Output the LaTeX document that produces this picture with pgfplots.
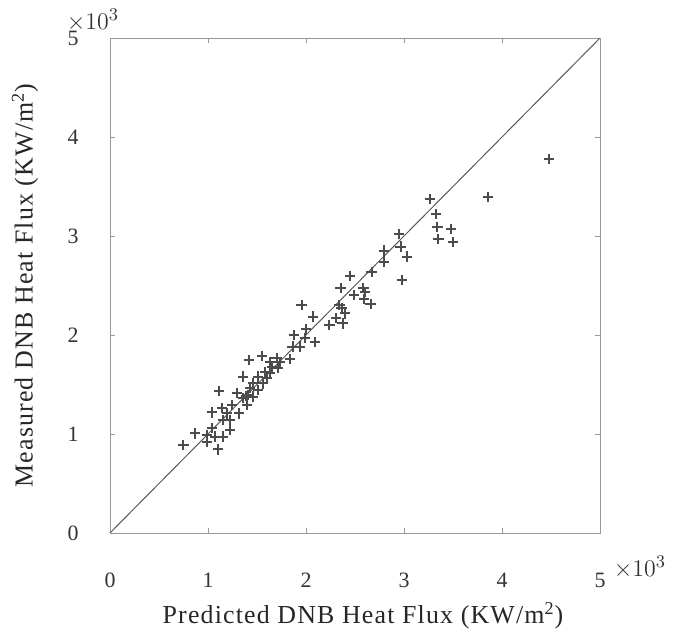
\documentclass[border=0pt]{standalone}
\usepackage{pgfplots}
\pgfplotsset{compat=1.18}
\usepackage{fontspec}
\setmainfont{Liberation Serif}
\pgfplotstableread{
x y
0.748 0.889
0.867 1.007
0.987 0.990
0.987 0.922
1.038 1.058
1.038 1.219
1.071 0.973
1.105 0.845
1.115 1.437
1.140 1.260
1.156 1.141
1.156 0.973
1.191 1.209
1.224 1.141
1.224 1.040
1.242 1.293
1.293 1.417
1.319 1.209
1.360 1.361
1.360 1.579
1.388 1.384
1.398 1.293
1.411 1.394
1.421 1.747
1.429 1.462
1.462 1.377
1.462 1.512
1.513 1.444
1.513 1.579
1.548 1.788
1.564 1.512
1.582 1.629
1.599 1.563
1.633 1.613
1.633 1.730
1.650 1.680
1.701 1.765
1.717 1.664
1.735 1.730
1.837 1.755
1.864 1.882
1.875 2.000
1.939 1.882
1.956 2.303
1.990 1.967
2.000 2.058
2.074 2.185
2.092 1.932
2.238 2.101
2.306 2.169
2.340 2.303
2.354 2.472
2.364 2.270
2.374 2.118
2.398 2.219
2.449 2.596
2.490 2.404
2.585 2.472
2.602 2.437
2.592 2.361
2.660 2.313
2.670 2.639
2.796 2.852
2.796 2.741
2.952 3.020
2.966 2.892
2.977 2.556
3.028 2.791
3.265 3.371
3.327 3.222
3.340 3.088
3.350 2.967
3.477 3.068
3.503 2.942
3.860 3.397
4.480 3.780
}\pts
\begin{document}
\begin{tikzpicture}
\path[use as bounding box] (-55bp,-52bp) rectangle (283.5bp,266.5bp);
\begin{axis}[
  at={(0,0)}, anchor=south west,
  scale only axis,
  width=245bp, height=247.5bp,
  xmin=0, xmax=5, ymin=0, ymax=5,
  xtick={0,1,2,3,4,5}, ytick={0,1,2,3,4,5},
  axis line style={gray!80, line width=0.5pt},
  tick style={gray!80, line width=0.5pt},
  major tick length=2.5bp,
  tick align=inside,
  /pgf/number format/assume math mode=true,
  tick label style={font=\fontsize{11}{12}\selectfont, text=black!80},
  xticklabel style={anchor=center, yshift=-23.5bp},
  yticklabel style={anchor=center, xshift=-18.5bp},
  xlabel={Predicted DNB Heat Flux (KW/m\textsuperscript{2})},
  ylabel={Measured DNB Heat Flux (KW/m\textsuperscript{2})},
  label style={font=\fontsize{13}{14}\selectfont\addfontfeature{LetterSpace=4.5}, text=black!85},
  xlabel style={at={(axis description cs:0.5,0)}, anchor=center, yshift=-41.5bp, xshift=4bp},
  ylabel style={at={(axis description cs:0,0.5)}, anchor=center, rotate=0, yshift=42.5bp, xshift=0bp},
  clip=false,
]
\addplot[gray!70!black, line width=0.5pt] coordinates {(0,0) (5,5)};
\addplot[only marks, mark=+, mark size=2.6bp, color=black!70, line width=0.9bp] table[x=x,y=y] {\pts};
\node[font=\fontsize{13}{14}\selectfont, text=black!80] at (rel axis cs:0,1) [xshift=-8.5bp, yshift=9bp] {$\times 10^{3}$};
\node[font=\fontsize{13}{14}\selectfont, text=black!80] at (rel axis cs:1,0) [xshift=20bp, yshift=-17bp] {$\times 10^{3}$};
\end{axis}
\end{tikzpicture}
\end{document}
